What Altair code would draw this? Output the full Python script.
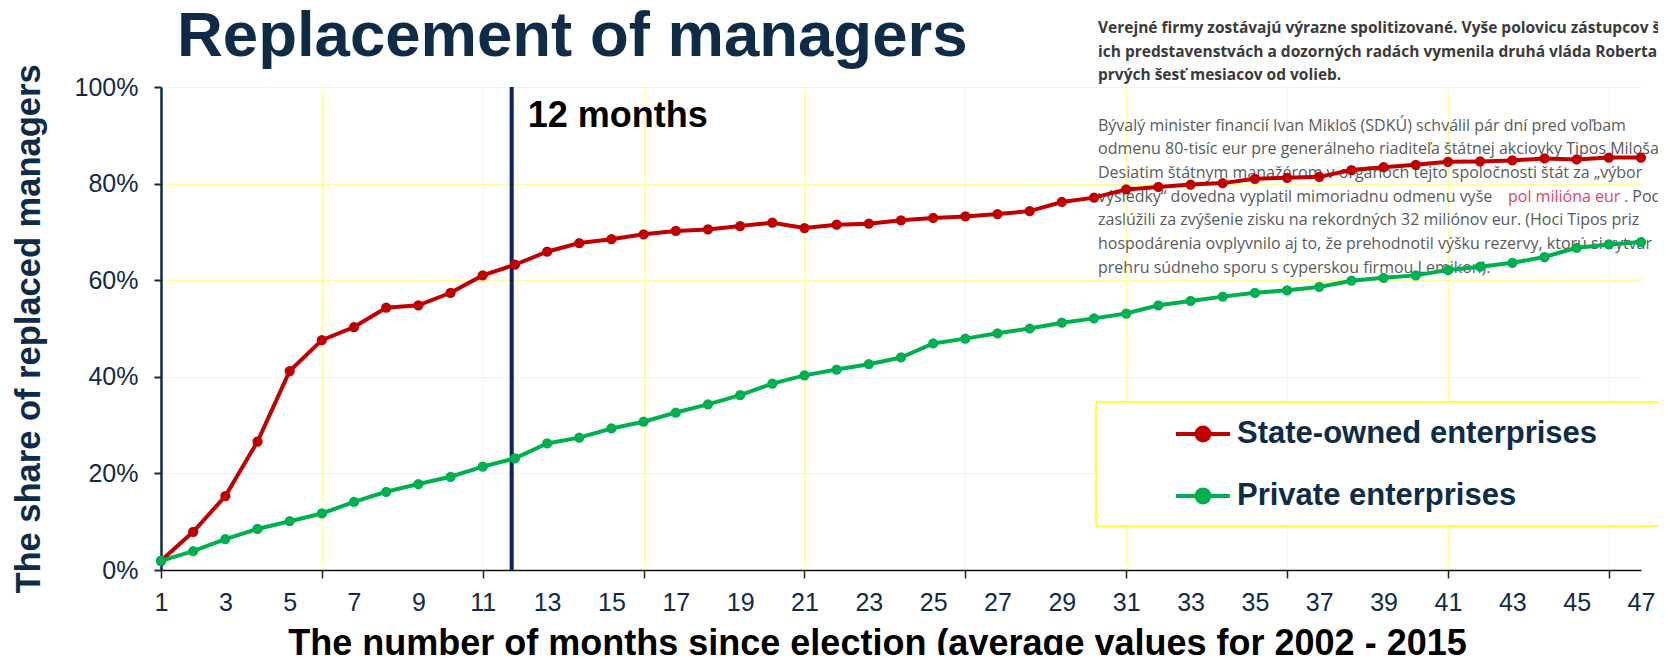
import altair as alt
import pandas as pd

# ---------------- data ----------------
months = list(range(1, 48))
state_owned = [1.9, 7.9, 15.3, 26.6, 41.2, 47.6, 50.3, 54.3, 54.8, 57.4,
               61.0, 63.2, 65.9, 67.7, 68.5, 69.5, 70.2, 70.5, 71.2, 71.9,
               70.8, 71.5, 71.7, 72.4, 72.9, 73.2, 73.7, 74.3, 76.2, 77.1,
               78.8, 79.3, 79.8, 80.1, 81.0, 81.2, 81.4, 82.8, 83.4, 83.9,
               84.5, 84.6, 84.8, 85.2, 85.0, 85.4, 85.4]
private = [1.9, 3.9, 6.4, 8.5, 10.1, 11.7, 14.1, 16.2, 17.8, 19.3,
           21.4, 23.1, 26.2, 27.4, 29.3, 30.7, 32.6, 34.3, 36.2, 38.6,
           40.3, 41.5, 42.6, 44.0, 46.9, 47.9, 49.0, 50.0, 51.2, 52.1,
           53.1, 54.8, 55.7, 56.6, 57.4, 57.9, 58.6, 59.9, 60.5, 61.0,
           62.1, 62.8, 63.6, 64.8, 66.7, 67.4, 67.9]
series_names = ["State-owned enterprises", "Private enterprises"]
series_colors = ["#C00000", "#00B050"]

y_ticks = [0, 0.2, 0.4, 0.6, 0.8, 1.0]
x_label_months = list(range(1, 48, 2))
x_tick_months = list(range(1, 48, 5))
marker_month = [11.9]
marker_label = ["12 months"]

title_text = "Replacement of managers"
y_title = "The share of replaced managers"
x_title = "The number of months since election (average values for 2002 - 2015"

article_bold = [
    "Verejné firmy zostávajú výrazne spolitizované. Vyše polovicu zástupcov š",
    "ich predstavenstvách a dozorných radách vymenila druhá vláda Roberta",
    "prvých šesť mesiacov od volieb.",
]
article_a = [
    "Bývalý minister financií Ivan Mikloš (SDKÚ) schválil pár dní pred voľbam",
    "odmenu 80-tisíc eur pre generálneho riaditeľa štátnej akciovky Tipos Miloša",
    "Desiatim štátnym manažérom v orgánoch tejto spoločnosti štát za „výbor",
    "výsledky“ dovedna vyplatil mimoriadnu odmenu vyše",
    "zaslúžili za zvýšenie zisku na rekordných 32 miliónov eur.  (Hoci Tipos priz",
    "hospodárenia ovplyvnilo aj to, že prehodnotil výšku rezervy, ktorú si vytvár",
    "prehru súdneho sporu s cyperskou firmou Lemikon).",
]
article_red = "pol milióna eur"
article_after_red = ". Podľ"

# ---------------- styling ----------------
NAVY = "#0E2B47"
GRID = "#FFFF99"
FONT = "Liberation Sans"
ART_FONT = "Open Sans"

W = 1480
H = 483

rows = []
for name, vals in zip(series_names, [state_owned, private]):
    for m, v in zip(months, vals):
        rows.append({"month": m, "share": v / 100.0, "series": name})
df = pd.DataFrame(rows)
marker_df = pd.DataFrame({"month": marker_month, "label": marker_label})
one = pd.DataFrame({"k": [0]})

tick_test = "(datum.value - 1) % 5 == 0"
x_enc = alt.X(
    "month:Q",
    scale=alt.Scale(domain=[1, 47], nice=False, zero=False),
    axis=alt.Axis(
        values=sorted(set(x_label_months + x_tick_months)),
        labelExpr="datum.value % 2 == 1 ? datum.label : ''",
        format="d",
        labelFlush=False,
        labelOverlap=False,
        labelFontSize=25,
        labelFont=FONT,
        labelColor=NAVY,
        labelPadding=12,
        tickSize=8,
        tickWidth=1.5,
        tickColor="#222222",
        tickOpacity={"condition": {"test": tick_test, "value": 1}, "value": 0},
        grid=True,
        gridColor=GRID,
        gridWidth=1,
        gridOpacity={"condition": {"test": tick_test, "value": 1}, "value": 0},
        domainColor="#111111",
        domainWidth=1.5,
        title=x_title,
        titleFont=FONT,
        titleFontSize=36,
        titleFontWeight="bold",
        titleColor="#000000",
        titleX=716,
        titleY=84,
        titleAlign="center",
        titleBaseline="alphabetic",
    ),
)
y_enc = alt.Y(
    "share:Q",
    scale=alt.Scale(domain=[0, 1], nice=False),
    axis=alt.Axis(
        values=y_ticks,
        format=".0%",
        labelFontSize=25,
        labelFont=FONT,
        labelColor=NAVY,
        labelPadding=16,
        labelFlush=False,
        tickSize=7,
        tickWidth=2,
        tickColor=NAVY,
        domainColor=NAVY,
        domainWidth=2.5,
        grid=True,
        gridColor=GRID,
        gridWidth=1,
        title=y_title,
        titleFont=FONT,
        titleFontSize=34.5,
        titleFontWeight="bold",
        titleColor=NAVY,
        titleAngle=270,
        titleX=-122,
        titleY=H / 2,
        titleAlign="center",
        titleBaseline="alphabetic",
    ),
)
pad_chars = "\u2800" * 4
color_enc = alt.Color(
    "series:N",
    scale=alt.Scale(domain=series_names, range=series_colors),
    legend=alt.Legend(
        title=None,
        orient="none",
        legendX=935,
        legendY=315,
        direction="vertical",
        padding=15,
        fillColor="white",
        strokeColor="#FFFF00",
        symbolType="M-1.8,0L1.8,0M-0.43,0A0.43,0.43,0,1,0,0.43,0A0.43,0.43,0,1,0,-0.43,0Z",
        symbolSize=900,
        symbolStrokeWidth=4,
        symbolOffset=75,
        labelOffset=17,
        labelFont=FONT,
        labelFontSize=31,
        labelFontWeight="bold",
        labelColor=NAVY,
        labelLimit=1200,
        rowPadding=30,
        labelExpr="datum.label + '" + pad_chars + "'",
    ),
)

# article text (background)
art_bold = alt.Chart(one).mark_text(
    text=article_bold, font=ART_FONT, fontSize=15.5, fontWeight="bold",
    color="#3A3A3A", align="left", baseline="alphabetic", lineHeight=23.5,
).encode(x=alt.value(937), y=alt.value(-54))
art_a = alt.Chart(one).mark_text(
    text=article_a, font=ART_FONT, fontSize=16, color="#5A5A5A",
    align="left", baseline="alphabetic", lineHeight=23.7,
).encode(x=alt.value(937), y=alt.value(43.5))
art_red = alt.Chart(one).mark_text(
    text=article_red, font=ART_FONT, fontSize=16, color="#E0445E",
    align="left", baseline="alphabetic",
).encode(x=alt.value(1347), y=alt.value(43.5 + 3 * 23.7))
art_after = alt.Chart(one).mark_text(
    text=article_after_red, font=ART_FONT, fontSize=16, color="#5A5A5A",
    align="left", baseline="alphabetic",
).encode(x=alt.value(1463), y=alt.value(43.5 + 3 * 23.7))

title = alt.Chart(one).mark_text(
    text=title_text, font=FONT, fontSize=63.5, fontWeight="bold", color=NAVY,
    align="left", baseline="alphabetic",
).encode(x=alt.value(16), y=alt.value(-31))

lines = alt.Chart(df).mark_line(strokeWidth=4).encode(
    x=x_enc, y=y_enc, color=color_enc, detail="series:N"
)
points = alt.Chart(df).mark_circle(size=105, opacity=1).encode(
    x=x_enc, y=y_enc, color=color_enc
)
rule = alt.Chart(marker_df).mark_rule(color="#0A2366", strokeWidth=4).encode(
    x=x_enc, y=alt.datum(0), y2=alt.datum(1)
)
rule_label = alt.Chart(marker_df).mark_text(
    font=FONT, fontSize=36, fontWeight="bold", color="#000000",
    align="left", baseline="alphabetic", dx=16, dy=40,
).encode(x=x_enc, y=alt.datum(1), text="label:N")

chart = alt.layer(
    art_bold, art_a, art_red, art_after, title, rule, lines, points, rule_label
).properties(
    width=W,
    height=H,
    autosize=alt.AutoSizeParams(type="none"),
    padding={"left": 153, "top": 79, "right": 17, "bottom": 85},
).configure_view(stroke=None).configure_legend(strokeWidth=1.5)

chart.save("out.html", embed_options={"renderer": "svg", "actions": False})
